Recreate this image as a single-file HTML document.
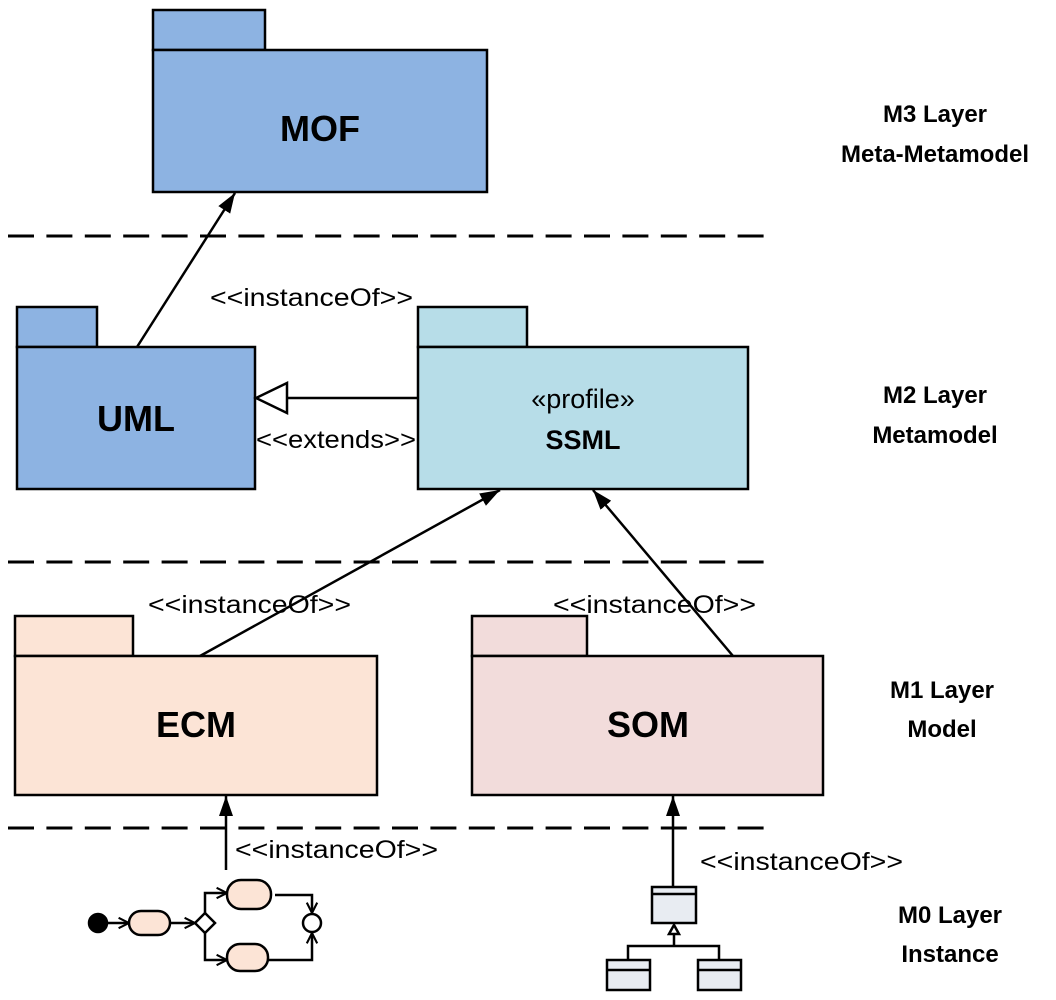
<!DOCTYPE html>
<html><head><style>body{margin:0;background:#fff}svg{display:block}</style></head><body>
<svg width="1056" height="1000" xmlns="http://www.w3.org/2000/svg" font-family="Liberation Sans, sans-serif">
<defs>
<marker id="a" viewBox="0 0 10 10" refX="10" refY="5" markerWidth="20" markerHeight="14" preserveAspectRatio="none" orient="auto" markerUnits="userSpaceOnUse"><path d="M0,0 L10,5 L0,10z" fill="#000"/></marker>
<marker id="s" viewBox="0 0 10 10" refX="9" refY="5" markerWidth="13" markerHeight="13" orient="auto" markerUnits="userSpaceOnUse"><path d="M1,1 L9,5 L1,9" fill="none" stroke="#000" stroke-width="1.6"/></marker>
</defs>
<g stroke="#000" stroke-width="3" stroke-dasharray="26,12.4">
<line x1="8" y1="236" x2="765" y2="236"/><line x1="8" y1="562" x2="765" y2="562"/><line x1="8" y1="828" x2="765" y2="828"/>
</g>
<g stroke="#000" stroke-width="2.5">
<rect x="153" y="10" width="112" height="40" fill="#8DB3E2"/><rect x="153" y="50" width="334" height="142" fill="#8DB3E2"/>
<rect x="17" y="307" width="80" height="40" fill="#8DB3E2"/><rect x="17" y="347" width="238" height="142" fill="#8DB3E2"/>
<rect x="418" y="307" width="109" height="40" fill="#B7DDE8"/><rect x="418" y="347" width="330" height="142" fill="#B7DDE8"/>
<rect x="15" y="616" width="118" height="40" fill="#FCE4D6"/><rect x="15" y="656" width="362" height="139" fill="#FCE4D6"/>
<rect x="472" y="616" width="115" height="40" fill="#F2DCDB"/><rect x="472" y="656" width="351" height="139" fill="#F2DCDB"/>
</g>
<g font-weight="bold" font-size="36" text-anchor="middle">
<text x="320" y="141">MOF</text><text x="136" y="431">UML</text><text x="196" y="737">ECM</text><text x="648" y="737">SOM</text>
</g>
<text x="583" y="408" font-size="27" text-anchor="middle">«profile»</text>
<text x="583" y="449" font-size="27" font-weight="bold" text-anchor="middle">SSML</text>
<g stroke="#000" stroke-width="2.5" fill="none">
<line x1="137" y1="347" x2="235" y2="193" marker-end="url(#a)"/>
<line x1="200" y1="656" x2="500" y2="490" marker-end="url(#a)"/>
<line x1="733" y1="656" x2="593" y2="490" marker-end="url(#a)"/>
<line x1="226" y1="870" x2="226" y2="796" marker-end="url(#a)"/>
<line x1="673" y1="887" x2="673" y2="796" marker-end="url(#a)"/>
<line x1="418" y1="398" x2="287" y2="398"/>
<path d="M287,383 L256,398 L287,413z" fill="#fff"/>
</g>
<g font-size="25">
<text x="210" y="306" textLength="203" lengthAdjust="spacingAndGlyphs">&lt;&lt;instanceOf&gt;&gt;</text>
<text x="256" y="448" textLength="160" lengthAdjust="spacingAndGlyphs">&lt;&lt;extends&gt;&gt;</text>
<text x="148" y="613" textLength="203" lengthAdjust="spacingAndGlyphs">&lt;&lt;instanceOf&gt;&gt;</text>
<text x="553" y="613" textLength="203" lengthAdjust="spacingAndGlyphs">&lt;&lt;instanceOf&gt;&gt;</text>
<text x="235" y="858" textLength="203" lengthAdjust="spacingAndGlyphs">&lt;&lt;instanceOf&gt;&gt;</text>
<text x="700" y="870" textLength="203" lengthAdjust="spacingAndGlyphs">&lt;&lt;instanceOf&gt;&gt;</text>
</g>
<g font-size="24" font-weight="bold" text-anchor="middle">
<text x="935" y="122">M3 Layer</text><text x="935" y="162">Meta-Metamodel</text>
<text x="935" y="403">M2 Layer</text><text x="935" y="443">Metamodel</text>
<text x="942" y="698">M1 Layer</text><text x="942" y="737">Model</text>
<text x="950" y="923">M0 Layer</text><text x="950" y="962">Instance</text>
</g>
<g stroke="#000" stroke-width="2.5" fill="none">
<circle cx="98" cy="923" r="9" fill="#000"/>
<line x1="107" y1="923" x2="129" y2="923" marker-end="url(#s)"/>
<rect x="129" y="911" width="41" height="24" rx="12" fill="#FCE4D6"/>
<line x1="170" y1="923" x2="195" y2="923" marker-end="url(#s)"/>
<path d="M205,913 L215,923 L205,933 L195,923z" fill="#fff"/>
<path d="M205,913 V893 H227" marker-end="url(#s)"/>
<path d="M205,933 V960 H227" marker-end="url(#s)"/>
<rect x="227" y="880" width="44" height="29" rx="14" fill="#FCE4D6"/>
<rect x="227" y="944" width="41" height="27" rx="13" fill="#FCE4D6"/>
<path d="M275,895 H312 V913" marker-end="url(#s)"/>
<path d="M268,960 H312 V933" marker-end="url(#s)"/>
<circle cx="312" cy="923" r="9" fill="#fff"/>
<rect x="652" y="887" width="44" height="36" fill="#E8ECF2"/><line x1="652" y1="894" x2="696" y2="894"/>
<path d="M669,934 L674,925 L679,934z" fill="#fff"/>
<path d="M674,934 V946 M628,960 V946 H719 V960"/>
<rect x="607" y="960" width="43" height="30" fill="#E8ECF2"/><line x1="607" y1="970" x2="650" y2="970"/>
<rect x="698" y="960" width="43" height="30" fill="#E8ECF2"/><line x1="698" y1="970" x2="741" y2="970"/>
</g>
</svg>
</body></html>
